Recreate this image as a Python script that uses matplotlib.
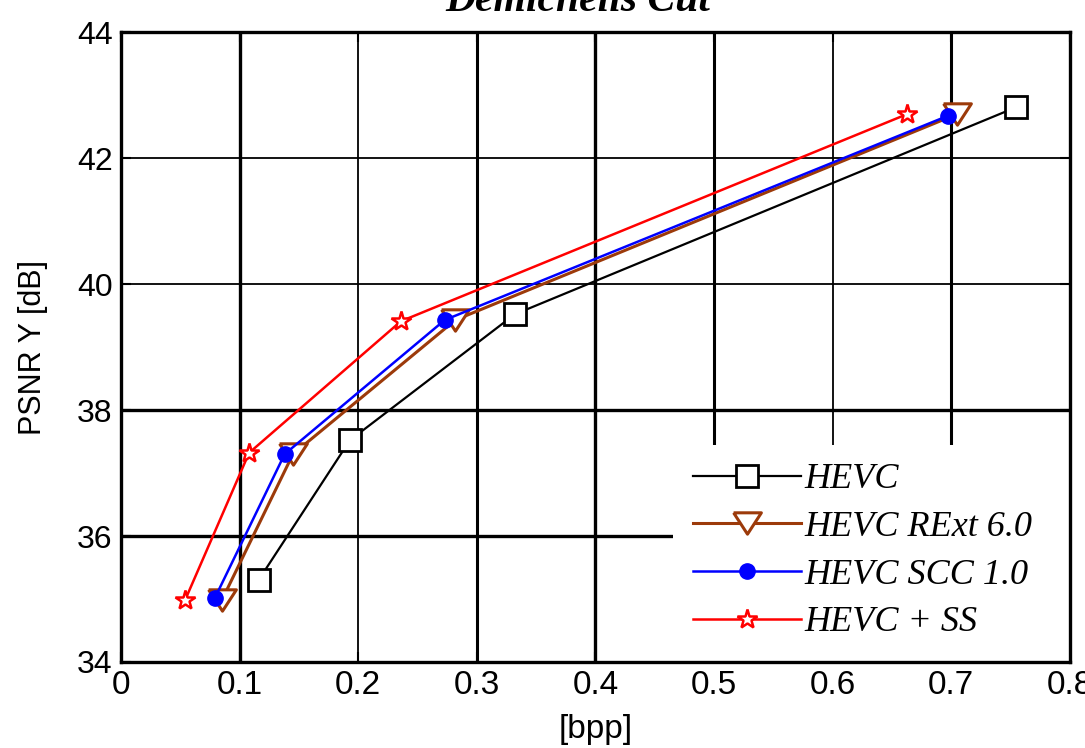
import matplotlib
matplotlib.use("Agg")
import matplotlib.pyplot as plt
from matplotlib.patches import Rectangle

# Rate-distortion data: bitrate [bpp] vs PSNR Y [dB]
hevc_bpp = [0.116, 0.193, 0.332, 0.755]
hevc_psnr = [35.30, 37.52, 39.52, 42.81]

rext_bpp = [0.085, 0.145, 0.282, 0.705]
rext_psnr = [34.98, 37.30, 39.43, 42.70]

scc_bpp = [0.079, 0.138, 0.273, 0.697]
scc_psnr = [35.01, 37.30, 39.43, 42.67]

ss_bpp = [0.054, 0.108, 0.236, 0.663]
ss_psnr = [34.98, 37.32, 39.41, 42.70]

x_ticks = [0, 0.1, 0.2, 0.3, 0.4, 0.5, 0.6, 0.7, 0.8]
x_ticklabels = ["0", "0.1", "0.2", "0.3", "0.4", "0.5", "0.6", "0.7", "0.8"]
y_ticks = [34, 36, 38, 40, 42, 44]

series_labels = ["HEVC", "HEVC RExt 6.0", "HEVC SCC 1.0", "HEVC + SS"]

fig = plt.figure(figsize=(10.85, 7.48), dpi=100)
ax = fig.add_axes([0.1115, 0.115, 0.8745, 0.842])

brown = "#9c3a0a"
# wide, flat downward triangle
tri_down = [(-1.3, 1.0), (1.3, 1.0), (0.0, -1.0), (-1.3, 1.0)]

ax.plot(hevc_bpp, hevc_psnr, color="black", lw=1.6, marker="s", ms=16,
        mfc="white", mec="black", mew=2.0, label=series_labels[0], zorder=3)
ax.plot(rext_bpp, rext_psnr, color=brown, lw=2.2, marker=tri_down, ms=20,
        mfc="white", mec=brown, mew=2.2, label=series_labels[1], zorder=4)
ax.plot(scc_bpp, scc_psnr, color="blue", lw=1.8, marker="o", ms=11,
        mfc="blue", mec="blue", mew=1.0, label=series_labels[2], zorder=5)
ax.plot(ss_bpp, ss_psnr, color="red", lw=1.8, marker="*", ms=15,
        mfc="white", mec="red", mew=1.8, label=series_labels[3], zorder=6)

ax.set_xlim(0, 0.8)
ax.set_ylim(34, 44)
ax.set_xticks(x_ticks)
ax.set_yticks(y_ticks)
ax.set_xticklabels(x_ticklabels, family=["Liberation Sans Narrow", "Liberation Sans", "DejaVu Sans"], fontsize=24)
ax.set_yticklabels([str(v) for v in y_ticks], family=["Liberation Sans", "DejaVu Sans"], fontsize=23)

# Grid lines with varying weights
v_widths = {0.1: 2.4, 0.2: 1.3, 0.3: 2.2, 0.4: 2.4, 0.5: 2.2, 0.6: 1.3, 0.7: 2.2}
for xv, w in v_widths.items():
    ax.axvline(xv, color="black", lw=w, zorder=1)
h_widths = {36: 2.4, 38: 2.4, 40: 1.3, 42: 1.3}
for yv, w in h_widths.items():
    ax.axhline(yv, color="black", lw=w, zorder=1)

# White backdrop behind the legend
ax.add_patch(Rectangle((0.582, 0.0), 0.418, 0.345, transform=ax.transAxes,
                       facecolor="white", edgecolor="none", zorder=2))

ax.tick_params(direction="in", length=7, width=1.5, top=True, right=True, pad=6)
for sp in ax.spines.values():
    sp.set_linewidth(2.4)
    sp.set_zorder(7)

ax.set_xlabel("[bpp]", family=["Liberation Sans", "DejaVu Sans"], fontsize=24, labelpad=9)
ax.set_ylabel("PSNR Y [dB]", family=["Liberation Sans", "DejaVu Sans"], fontsize=22, labelpad=21)

fig.text(0.533, 1 - 11 / 748, "Demichelis Cut", ha="center", va="baseline",
         family=["Liberation Serif", "DejaVu Serif"], style="italic", weight="bold",
         fontsize=30)

leg = ax.legend(loc="upper left", bbox_to_anchor=(0.603, 0.316),
                prop={"family": ["Liberation Serif", "DejaVu Serif"], "style": "italic", "size": 26},
                frameon=False, handlelength=3.0, handletextpad=0.09,
                labelspacing=0.40, borderpad=0.0, borderaxespad=0.0)
leg.set_zorder(10)

fig.savefig("out.png", dpi=100)
